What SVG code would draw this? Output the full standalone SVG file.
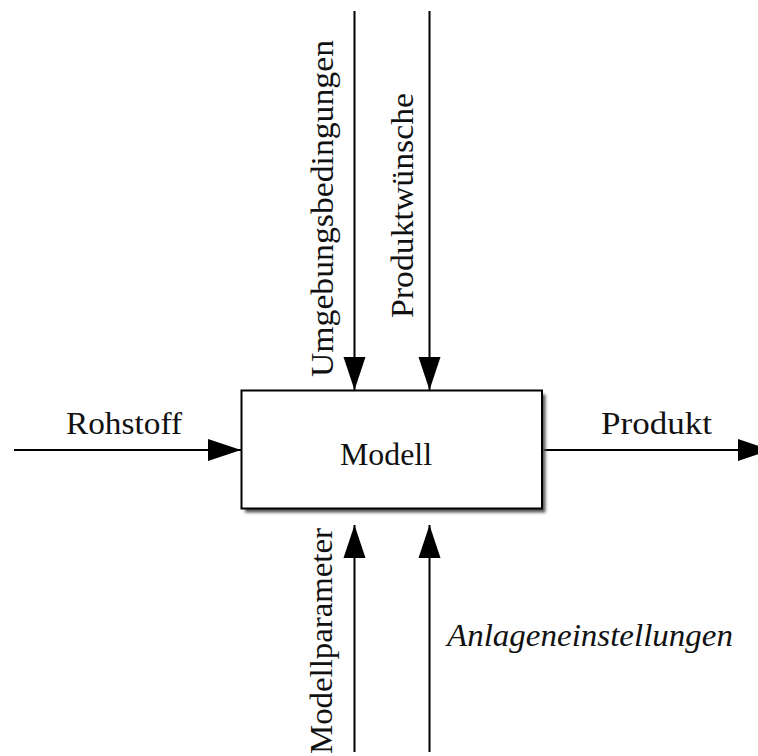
<svg xmlns="http://www.w3.org/2000/svg" width="758" height="756" viewBox="0 0 758 756">
  <style>
    .lbl { font-family: "Liberation Serif", "DejaVu Serif", serif; font-size: 31px; fill: #111; }
    .it { font-style: italic; }
    .conn { stroke: #000; stroke-width: 2; fill: none; marker-end: url(#arrow); }
  </style>
  <defs>
    <marker id="arrow" markerUnits="userSpaceOnUse" markerWidth="34" markerHeight="24" viewBox="0 0 34 24" refX="33" refY="12" orient="auto">
      <path d="M0,1 L33,12 L0,23 Z" fill="#000"/>
    </marker>
    <filter id="shadow" x="-10%" y="-10%" width="120%" height="130%">
      <feGaussianBlur stdDeviation="1.4"/>
    </filter>
  </defs>
  <rect width="758" height="756" fill="#fff"/>

  <g id="connectors">
    <line class="conn" x1="14" y1="450" x2="241" y2="450"/>
    <line class="conn" x1="542" y1="450" x2="771" y2="450"/>
    <line class="conn" x1="354.5" y1="11" x2="354.5" y2="390"/>
    <line class="conn" x1="429.5" y1="11" x2="429.5" y2="390"/>
    <line class="conn" x1="354.5" y1="752" x2="354.5" y2="525"/>
    <line class="conn" x1="429.5" y1="752" x2="429.5" y2="525"/>
  </g>

  <g id="node-modell">
    <rect x="245" y="394.5" width="300.5" height="118" fill="#555" filter="url(#shadow)"/>
    <rect x="241.5" y="390.5" width="300.5" height="118" fill="#fff" stroke="#000" stroke-width="2"/>
    <text class="lbl" x="340" y="465" textLength="92" lengthAdjust="spacingAndGlyphs">Modell</text>
  </g>

  <g id="labels">
    <text class="lbl" x="66" y="434" textLength="116" lengthAdjust="spacingAndGlyphs">Rohstoff</text>
    <text class="lbl" x="601" y="434" textLength="111" lengthAdjust="spacingAndGlyphs">Produkt</text>
    <text class="lbl" transform="translate(333,377) rotate(-90)" textLength="337" lengthAdjust="spacingAndGlyphs">Umgebungsbedingungen</text>
    <text class="lbl" transform="translate(413,318) rotate(-90)" textLength="225" lengthAdjust="spacingAndGlyphs">Produktwünsche</text>
    <text class="lbl" transform="translate(332,754) rotate(-90)" textLength="226" lengthAdjust="spacingAndGlyphs">Modellparameter</text>
    <text class="lbl it" x="447" y="646" textLength="286" lengthAdjust="spacingAndGlyphs">Anlageneinstellungen</text>
  </g>
</svg>
